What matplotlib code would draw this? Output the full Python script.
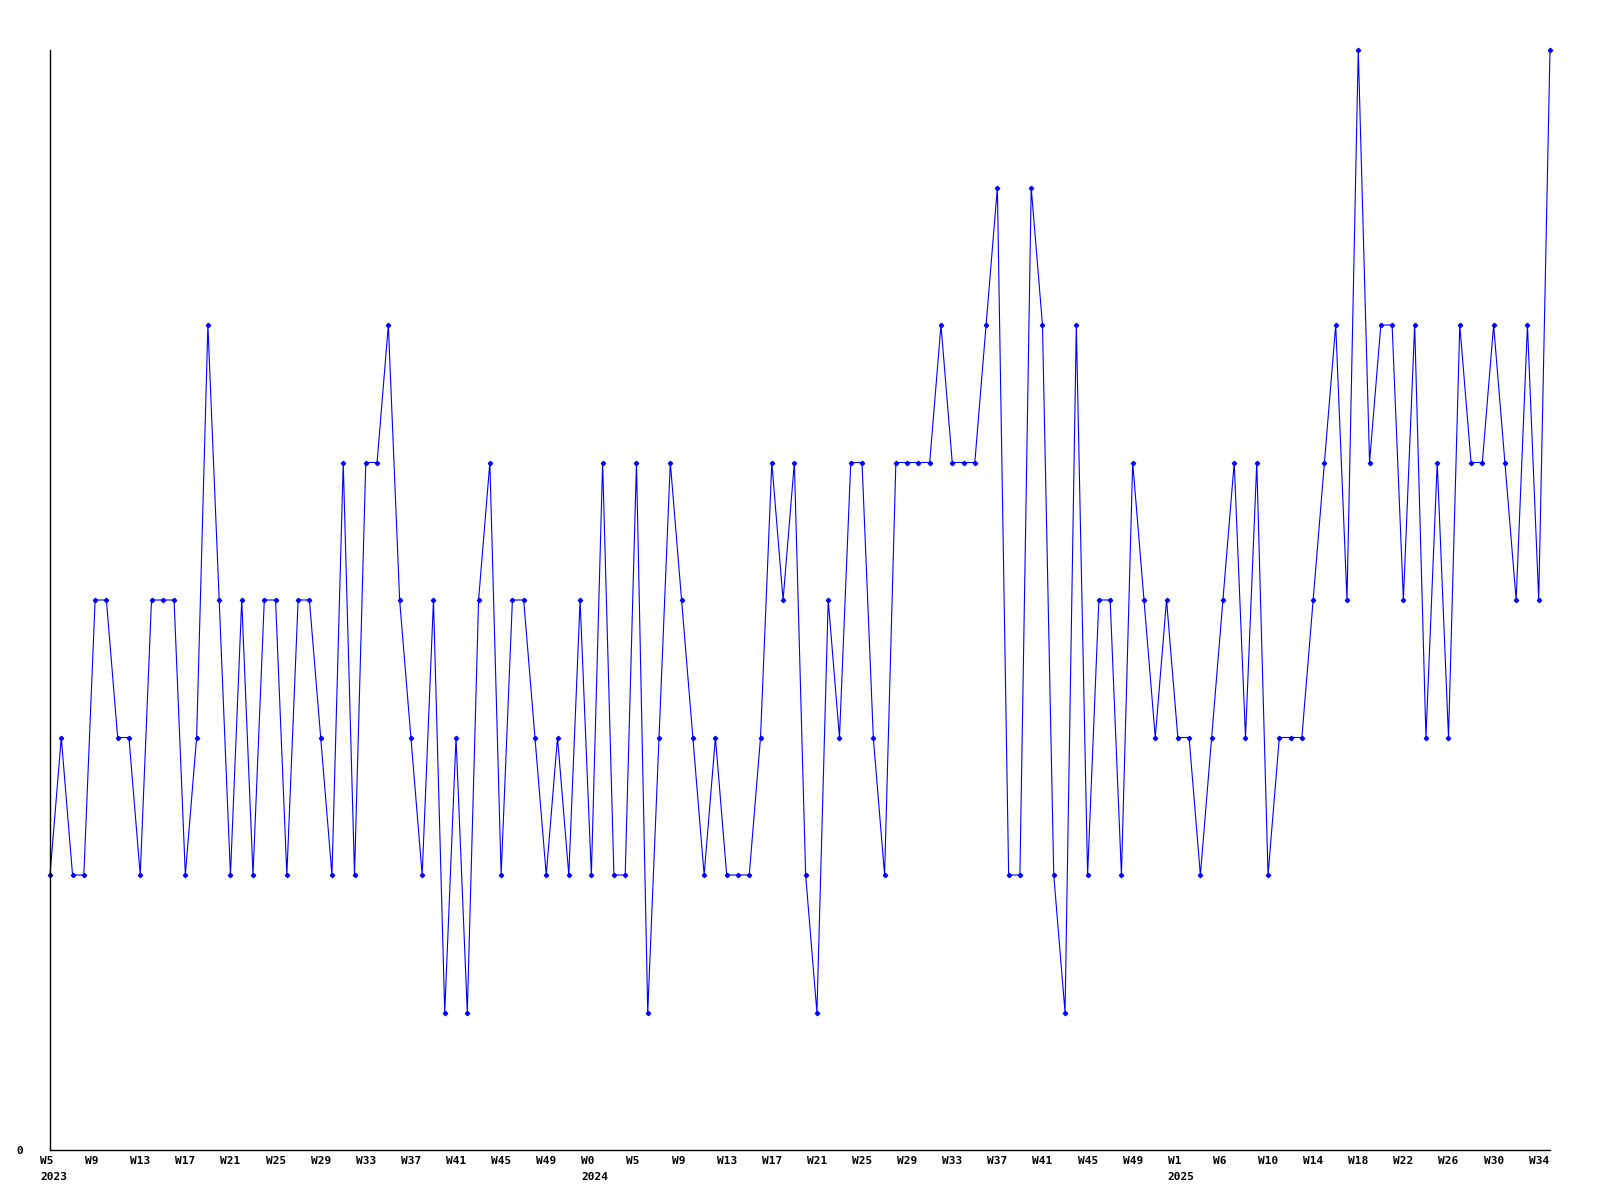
import numpy as np
import matplotlib
matplotlib.use("Agg")
import matplotlib.pyplot as plt
import matplotlib.transforms as mtransforms

# weekly counts, one per week starting 2023 W5
counts = [2, 3, 2, 2, 4, 4, 3, 3, 2, 4, 4, 4, 2, 3, 6, 4, 2, 4, 2, 4,
          4, 2, 4, 4, 3, 2, 5, 2, 5, 5, 6, 4, 3, 2, 4, 1, 3, 1, 4, 5,
          2, 4, 4, 3, 2, 3, 2, 4, 2, 5, 2, 2, 5, 1, 3, 5, 4, 3, 2, 3,
          2, 2, 2, 3, 5, 4, 5, 2, 1, 4, 3, 5, 5, 3, 2, 5, 5, 5, 5, 6,
          5, 5, 5, 6, 7, 2, 2, 7, 6, 2, 1, 6, 2, 4, 4, 2, 5, 4, 3, 4,
          3, 3, 2, 3, 4, 5, 3, 5, 2, 3, 3, 3, 4, 5, 6, 4, 8, 5, 6, 6,
          4, 6, 3, 5, 3, 6, 5, 5, 6, 5, 4, 6, 4, 8]

week_labels = ["W5", "W9", "W13", "W17", "W21", "W25", "W29", "W33", "W37",
               "W41", "W45", "W49",
               "W0", "W5", "W9", "W13", "W17", "W21", "W25", "W29", "W33",
               "W37", "W41", "W45", "W49",
               "W1", "W6", "W10", "W14", "W18", "W22", "W26", "W30", "W34"]
label_step = 4
year_labels = ["2023", "2024", "2025"]
year_label_index = [0, 12, 25]   # which week label each year sits under

font = {"family": "DejaVu Sans Mono", "weight": "bold", "size": 8}

fig = plt.figure(figsize=(16, 12), dpi=100)
ax = fig.add_axes([50 / 1600, 50 / 1200, 1500 / 1600, 1100 / 1200])

x = np.arange(len(counts))
ax.plot(x, counts, color="#0000ff", lw=0.8, marker="D", ms=2.2,
        mec="#0000ff", mfc="#0000ff", clip_on=False)

ax.set_xlim(0, len(counts) - 1)
ax.set_ylim(0, 8)

for s in ["top", "right"]:
    ax.spines[s].set_visible(False)
for s in ["left", "bottom"]:
    ax.spines[s].set_linewidth(1.0)
    ax.spines[s].set_color("black")

ax.set_yticks([0])
ax.set_yticklabels(["0"], **font)
ax.tick_params(axis="y", length=0, pad=19)

tick_pos = [i * label_step for i in range(len(week_labels))]
ax.set_xticks(tick_pos)
ax.set_xticklabels(week_labels, **font)
ax.tick_params(axis="x", length=0, pad=4)
shift = mtransforms.ScaledTranslation(-10 / 100, 0, fig.dpi_scale_trans)
for lab in ax.get_xticklabels():
    lab.set_ha("left")
    lab.set_transform(lab.get_transform() + shift)

trans = mtransforms.blended_transform_factory(ax.transData, ax.transAxes)
for yl, idx in zip(year_labels, year_label_index):
    ax.text(tick_pos[idx], 0, yl, transform=trans + mtransforms.ScaledTranslation(
        -10 / 100, -27 / 100, fig.dpi_scale_trans), ha="left", va="center", **font)

fig.savefig("out.png", dpi=100)
